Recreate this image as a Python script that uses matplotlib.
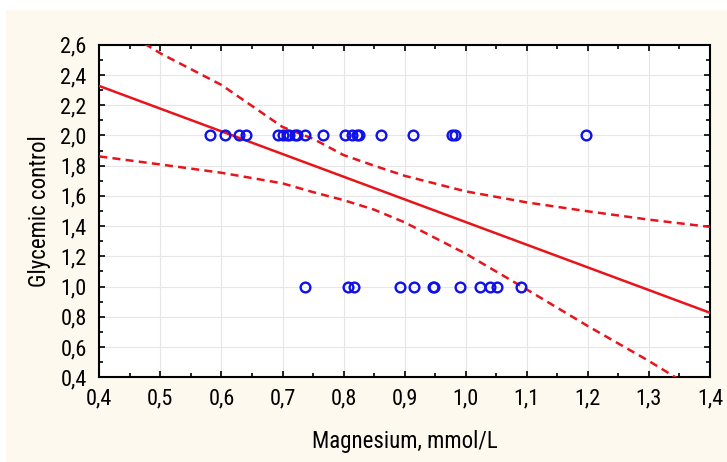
import matplotlib.pyplot as plt
import matplotlib.patches as mpatches
from matplotlib.ticker import MultipleLocator, FuncFormatter
import numpy as np

plt.rcParams['font.family'] = ['Roboto Condensed', 'Liberation Sans', 'DejaVu Sans']

mg_good = [0.581, 0.606, 0.628, 0.640, 0.693, 0.701, 0.707, 0.710, 0.720, 0.724,
           0.737, 0.767, 0.802, 0.814, 0.822, 0.826, 0.862, 0.914, 0.977, 0.982, 1.197]
gc_good = [2.0] * len(mg_good)
mg_poor = [0.737, 0.807, 0.817, 0.892, 0.916, 0.946, 0.948, 0.990, 1.023, 1.040, 1.052, 1.090]
gc_poor = [1.0] * len(mg_poor)

# fitted line and 95% band
fit_x = [0.4, 1.4]
fit_y = [2.327, 0.827]
band_x = [0.4, 0.5, 0.6, 0.7, 0.75, 0.8, 0.85, 0.9, 1.0, 1.1, 1.2, 1.3, 1.4]
band_hi = [2.79, 2.543, 2.334, 2.056, 1.978, 1.870, 1.800, 1.733, 1.630, 1.557, 1.498, 1.443, 1.395]
band_lo = [1.861, 1.808, 1.753, 1.683, 1.625, 1.572, 1.509, 1.425, 1.218, 0.981, 0.739, 0.508, 0.26]

def comma(v, pos):
    return f"{v:.1f}".replace('.', ',')

fig = plt.figure(figsize=(7.27, 4.62), dpi=100, facecolor='white')
bg = mpatches.Rectangle((6 / 727, 0), 1, 1 - 10 / 462, transform=fig.transFigure,
                        facecolor='#fdf9ee', edgecolor='none')
bg.set_zorder(-10)
fig.add_artist(bg)
ax = fig.add_axes([0.1366, 0.1833, 0.8400, 0.7199])
ax.set_zorder(5)
ax.set_facecolor('white')

red = '#e8141b'
ax.plot(fit_x, fit_y, color=red, lw=1.8, zorder=3)
ax.plot(band_x, band_hi, color=red, lw=1.8, ls=(0, (3.2, 2.1)), zorder=3)
ax.plot(band_x, band_lo, color=red, lw=1.8, ls=(0, (3.2, 2.1)), zorder=3)
ax.plot(mg_good, gc_good, 'o', mfc='none', mec='#1010e8', mew=1.7, ms=7, zorder=4)
ax.plot(mg_poor, gc_poor, 'o', mfc='none', mec='#1010e8', mew=1.7, ms=7, zorder=4)

ax.set_xlim(0.4, 1.4)
ax.set_ylim(0.4, 2.6)
ax.xaxis.set_major_locator(MultipleLocator(0.1))
ax.xaxis.set_minor_locator(MultipleLocator(0.05))
ax.yaxis.set_major_locator(MultipleLocator(0.2))
ax.yaxis.set_minor_locator(MultipleLocator(0.1))
ax.xaxis.set_major_formatter(FuncFormatter(comma))
ax.yaxis.set_major_formatter(FuncFormatter(comma))
ax.tick_params(which='both', direction='in', top=True, right=True, width=1.2, labelsize=16)
ax.tick_params(which='major', length=4)
ax.tick_params(axis='x', which='major', pad=8)
ax.tick_params(axis='y', which='major', pad=9)
ax.tick_params(which='minor', length=3)
ax.grid(True, which='major', color='#e6e6e6', lw=0.8)
ax.set_axisbelow(True)
for s in ax.spines.values():
    s.set_linewidth(1.5)

ax.set_xlabel('Magnesium, mmol/L', fontsize=16.5, labelpad=15)
ax.set_ylabel('Glycemic control', fontsize=16.5, labelpad=7)

fig.savefig('out.png', dpi=100, facecolor=fig.get_facecolor())
